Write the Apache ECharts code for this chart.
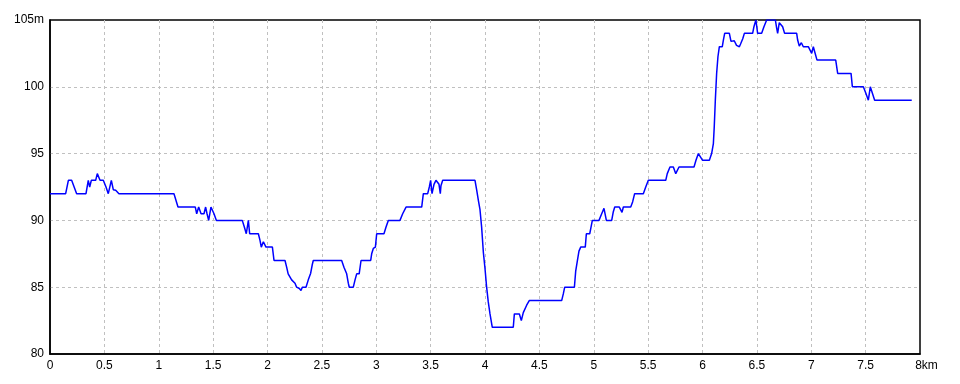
<!DOCTYPE html>
<html>
<head>
<meta charset="utf-8">
<script src="https://cdn.jsdelivr.net/npm/echarts@6/dist/echarts.min.js"></script>
<style>
html,body{margin:0;padding:0;background:#fff;}
#c{width:960px;height:384px;}
</style>
</head>
<body>
<div id="c"></div>
<script>
const distKm = [0,0.144,0.169,0.199,0.245,0.331,0.352,0.365,0.380,0.389,0.420,0.435,0.460,0.490,0.515,0.536,0.564,0.582,0.604,0.634,
1.14,1.177,1.336,1.349,1.367,1.389,1.416,1.431,1.444,1.459,1.48,1.496,1.508,1.53,1.768,1.787,1.805,1.824,1.836,1.916,1.931,1.943,1.962,1.986,
2.045,2.06,2.161,2.176,2.19,2.222,2.253,2.268,2.293,2.308,2.32,2.354,2.375,2.397,2.412,2.421,2.682,2.703,2.728,2.743,2.752,2.789,2.805,2.82,2.843,2.86,
2.949,2.958,2.973,2.992,3.004,3.071,3.09,3.111,3.218,3.243,3.274,3.418,3.433,3.473,3.488,3.5,3.513,3.531,3.549,3.563,3.577,3.589,3.595,3.611,
3.908,3.923,3.939,3.954,3.969,3.985,4.0,4.015,4.03,4.046,4.067,4.26,4.27,4.316,4.334,4.352,4.383,4.407,4.705,4.72,4.733,4.822,4.834,4.85,4.864,4.88,
4.922,4.932,4.963,4.975,4.987,5.048,5.073,5.094,5.106,5.116,5.165,5.18,5.193,5.235,5.26,5.272,5.34,5.358,5.376,5.456,5.478,5.502,5.662,5.676,5.701,
5.732,5.754,5.784,5.922,5.94,5.962,5.977,6.001,6.063,6.084,6.1,6.108,6.118,6.13,6.142,6.155,6.182,6.192,6.204,6.247,6.262,6.28,6.292,6.313,6.339,
6.35,6.37,6.385,6.461,6.473,6.491,6.507,6.544,6.565,6.59,6.67,6.682,6.691,6.706,6.719,6.737,6.755,6.866,6.875,6.89,6.909,6.927,6.973,6.989,7.004,
7.019,7.037,7.053,7.225,7.243,7.366,7.378,7.479,7.503,7.525,7.543,7.561,7.583,7.924];
const elevM = [92,92,93,93,92,92,93,92.5,93,93,93,93.5,93,93,92.5,92,93,92.3,92.25,92,
92,91,91,90.5,91,90.5,90.5,91,90.5,90,91,91,90.5,90,90,89.5,89,90,89,89,88.5,88,88.4,88,
88,87,87,86.5,86,85.55,85.3,85,84.9,84.75,85,85,85.55,86.05,86.7,87,87,86.5,86,85.3,85,85,85.55,86,86,87,
87,87.5,87.9,88,89,89,89.5,90,90,90.5,91,91,92,92,92.5,93,92,92.7,93,93,92.7,92,92.6,93,
93,92.3,91.5,90.8,89.5,87.6,86.4,85,83.9,83,82,82,83,83,82.5,83.1,83.65,84,84,84.5,85,85,86.2,87,87.7,88,
88,89,89,89.5,90,90,90.5,90.9,91,90,90,90.65,91,91,90.6,91,91,91.4,92,92,92.5,93,93,93.5,94,
94,93.5,94,94,94.5,95,95,94.5,94.5,95,95.75,97,99,101,102.25,103,103,103.5,104,104,103.4,103.4,103.45,103.1,103,
103.2,103.6,104,104,104.5,105,104,104,104.5,105,105,104.4,104,104.8,104.9,104.5,104,104,103.5,103.05,103.3,103,103,102.75,102.5,
103,103,102,102,101,101,100,100,99.5,99,100,100,99,99];
const xTicksKm = {min: 0, max: 8, step: 0.5};
const yTicksM = {min: 80, max: 105, step: 5};

const points = distKm.map((d, i) => [d, elevM[i]]);
const chart = echarts.init(document.getElementById('c'), null, {renderer: 'canvas'});
const font = '"Liberation Sans", Arial, sans-serif';
const grid = {color: '#c0c0c0', type: [3, 3], width: 1};
chart.setOption({
  animation: false,
  backgroundColor: '#ffffff',
  grid: {left: 50, top: 20, right: 40, bottom: 30, show: true, borderColor: '#000', borderWidth: 1.5, backgroundColor: 'transparent'},
  xAxis: {
    type: 'value', min: xTicksKm.min, max: xTicksKm.max, interval: xTicksKm.step,
    axisLine: {show: true, lineStyle: {color: '#000', width: 1.5}},
    axisTick: {show: false},
    splitLine: {show: true, showMinLine: false, showMaxLine: false, lineStyle: grid},
    axisLabel: {
      color: '#000', fontFamily: font, fontSize: 12, margin: 6,
      formatter: v => v === xTicksKm.max ? '{p|}' + v + 'km' : String(v),
      rich: {p: {width: 13}}
    }
  },
  yAxis: {
    type: 'value', min: yTicksM.min, max: yTicksM.max, interval: yTicksM.step,
    axisLine: {show: true, lineStyle: {color: '#000', width: 1.5}},
    axisTick: {show: false},
    splitLine: {show: true, showMinLine: false, showMaxLine: false, lineStyle: grid},
    axisLabel: {
      color: '#000', fontFamily: font, fontSize: 12, margin: 6,
      formatter: v => v === yTicksM.max ? v + 'm' : String(v)
    }
  },
  series: [{
    type: 'line', data: points, showSymbol: false, symbol: 'none',
    lineStyle: {color: '#0000ff', width: 1.5}, clip: true
  }]
});
</script>
</body>
</html>
